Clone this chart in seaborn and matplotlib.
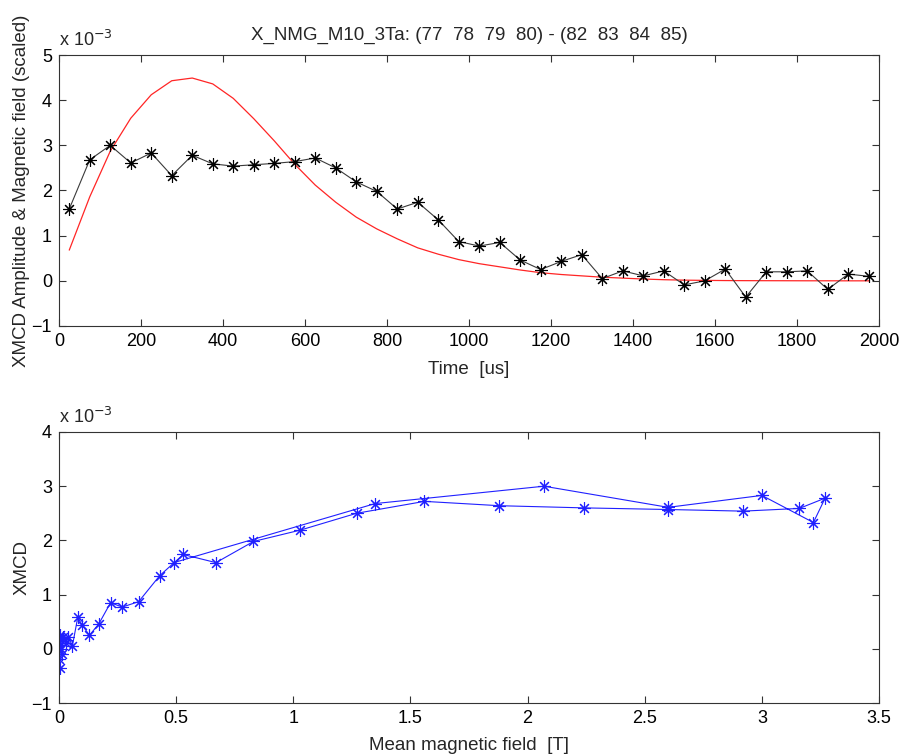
import matplotlib
matplotlib.use("Agg")
import matplotlib.pyplot as plt
from matplotlib.ticker import FuncFormatter
import pandas as pd
import seaborn as sns

# Time axis of the delay scan [us]
time_us = [25, 75, 125, 175, 225, 275, 325, 375, 425, 475,
           525, 575, 625, 675, 725, 775, 825, 875, 925, 975,
           1025, 1075, 1125, 1175, 1225, 1275, 1325, 1375, 1425, 1475,
           1525, 1575, 1625, 1675, 1725, 1775, 1825, 1875, 1925, 1975]

# XMCD amplitude (x 1e-3)
xmcd = [1.59, 2.68, 3.00, 2.61, 2.83, 2.33, 2.78, 2.59, 2.54, 2.57,
        2.60, 2.64, 2.72, 2.50, 2.19, 1.98, 1.59, 1.74, 1.35, 0.87,
        0.77, 0.85, 0.46, 0.25, 0.43, 0.58, 0.05, 0.22, 0.11, 0.22,
        -0.09, 0.00, 0.26, -0.36, 0.20, 0.20, 0.22, -0.19, 0.15, 0.10]

# magnetic field pulse, scaled to the XMCD axis (x 1e-3)
field_scaled = [0.68, 1.86, 2.87, 3.60, 4.12, 4.43, 4.49, 4.36, 4.04, 3.59,
                3.10, 2.58, 2.12, 1.74, 1.41, 1.15, 0.93, 0.73, 0.59, 0.47,
                0.38, 0.31, 0.24, 0.18, 0.14, 0.11, 0.08, 0.06, 0.04, 0.025,
                0.015, 0.01, 0.006, 0.004, 0.003, 0.002, 0.001, 0.001, 0.0, 0.0]

# mean magnetic field per time bin [T]
mean_field = [0.49, 1.35, 2.07, 2.60, 3.00, 3.22, 3.27, 3.16, 2.92, 2.60,
              2.24, 1.88, 1.56, 1.27, 1.03, 0.83, 0.67, 0.53, 0.43, 0.34,
              0.27, 0.22, 0.17, 0.13, 0.10, 0.08, 0.057, 0.04, 0.03, 0.018,
              0.011, 0.007, 0.004, 0.003, 0.002, 0.001, 0.001, 0.0005, 0.0003, 0.0002]

df = pd.DataFrame({"time": time_us, "xmcd": xmcd,
                   "field_scaled": field_scaled, "mean_field": mean_field})

sns.set_style("white")
plt.rcParams["font.family"] = ["Liberation Sans", "DejaVu Sans"]
plt.rcParams["mathtext.fontset"] = "custom"
plt.rcParams["mathtext.rm"] = "Liberation Sans Narrow"
plt.rcParams["mathtext.it"] = "Liberation Sans Narrow"
plt.rcParams["font.size"] = 13

narrow = ["Liberation Sans Narrow", "Liberation Sans"]
LBL = 13.5

fig = plt.figure(figsize=(9.06, 7.54), dpi=100)
W, H = 906, 754
ax1 = fig.add_axes([59 / W, 1 - 326 / H, 820 / W, 271 / H])
ax2 = fig.add_axes([59 / W, 1 - 703 / H, 820 / W, 271 / H])

star = (8, 2, 0)

# top: XMCD and scaled field vs time
sns.lineplot(data=df, x="time", y="field_scaled", ax=ax1, color="#ff2525",
             linewidth=0.9, estimator=None, sort=False)
sns.lineplot(data=df, x="time", y="xmcd", ax=ax1, color="#3a3a3a",
             linewidth=0.8, marker=star, markersize=9,
             markeredgecolor="black", markeredgewidth=0.8,
             estimator=None, sort=False)
ax1.set_xlim(0, 2000)
ax1.set_ylim(-1, 5)
ax1.set_xticks(range(0, 2001, 200))
ax1.set_yticks(range(-1, 6))
ax1.set_xlabel("Time  [us]", fontsize=LBL, labelpad=8)
ax1.set_ylabel("XMCD Amplitude & Magnetic field (scaled)", fontsize=LBL)
ax1.set_title("X_NMG_M10_3Ta: (77  78  79  80) - (82  83  84  85)",
              fontsize=LBL, pad=11)
ax1.text(0.0, 1.02, r"x 10$^{-3}$", transform=ax1.transAxes,
         ha="left", va="bottom", fontsize=13, family=narrow)

# bottom: XMCD vs mean field (in time order)
sns.lineplot(data=df, x="mean_field", y="xmcd", ax=ax2, color="#2020ff",
             linewidth=0.8, marker=star, markersize=9,
             markeredgecolor="#2020ff", markeredgewidth=0.8,
             estimator=None, sort=False)
ax2.set_xlim(0, 3.5)
ax2.set_ylim(-1, 4)
ax2.set_xticks([0, 0.5, 1, 1.5, 2, 2.5, 3, 3.5])
ax2.set_yticks(range(-1, 5))
ax2.xaxis.set_major_formatter(FuncFormatter(lambda v, p: "%g" % v))
ax2.set_xlabel("Mean magnetic field  [T]", fontsize=LBL, labelpad=7)
ax2.set_ylabel("XMCD", fontsize=LBL)
ax2.text(0.0, 1.02, r"x 10$^{-3}$", transform=ax2.transAxes,
         ha="left", va="bottom", fontsize=13, family=narrow)

for ax in (ax1, ax2):
    ax.tick_params(direction="in", length=5, width=0.8, top=True, right=True,
                   bottom=True, left=True, color="#333333",
                   labelcolor="black", pad=5)
    for lab in ax.get_xticklabels() + ax.get_yticklabels():
        lab.set_family(narrow)
        lab.set_fontsize(13)
    for s in ax.spines.values():
        s.set_color("#333333")
        s.set_linewidth(0.8)
    ax.yaxis.set_label_coords(-0.035, 0.5)

fig.savefig("out.png", dpi=100, facecolor="white")
